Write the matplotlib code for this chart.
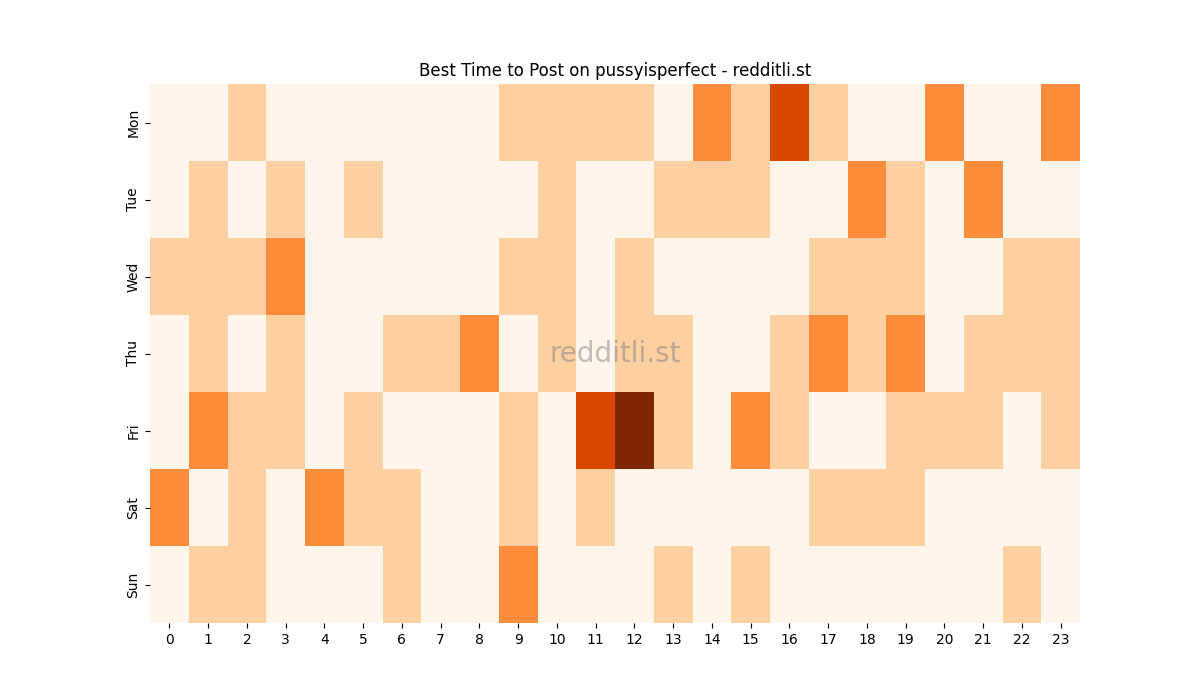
import matplotlib
matplotlib.use("Agg")
import matplotlib.pyplot as plt
import seaborn as sns
import numpy as np

days = ["Mon", "Tue", "Wed", "Thu", "Fri", "Sat", "Sun"]
hours = list(range(24))

mon = [0, 0, 1, 0, 0, 0, 0, 0, 0, 1, 1, 1, 1, 0, 2, 1, 3, 1, 0, 0, 2, 0, 0, 2]
tue = [0, 1, 0, 1, 0, 1, 0, 0, 0, 0, 1, 0, 0, 1, 1, 1, 0, 0, 2, 1, 0, 2, 0, 0]
wed = [1, 1, 1, 2, 0, 0, 0, 0, 0, 1, 1, 0, 1, 0, 0, 0, 0, 1, 1, 1, 0, 0, 1, 1]
thu = [0, 1, 0, 1, 0, 0, 1, 1, 2, 0, 1, 0, 1, 1, 0, 0, 1, 2, 1, 2, 0, 1, 1, 1]
fri = [0, 2, 1, 1, 0, 1, 0, 0, 0, 1, 0, 3, 4, 1, 0, 2, 1, 0, 0, 1, 1, 1, 0, 1]
sat = [2, 0, 1, 0, 2, 1, 1, 0, 0, 1, 0, 1, 0, 0, 0, 0, 0, 1, 1, 1, 0, 0, 0, 0]
sun = [0, 1, 1, 0, 0, 0, 1, 0, 0, 2, 0, 0, 0, 1, 0, 1, 0, 0, 0, 0, 0, 0, 1, 0]

grid = np.array([mon, tue, wed, thu, fri, sat, sun])

fig, ax = plt.subplots(figsize=(12, 7), dpi=100)
sns.heatmap(grid, cmap="Oranges", vmin=0, vmax=4, cbar=False,
            xticklabels=hours, yticklabels=days, ax=ax)
ax.set_title("Best Time to Post on pussyisperfect - redditli.st")
ax.text(0.5, 0.5, "redditli.st", transform=ax.transAxes, fontsize=20,
        color="gray", alpha=0.5, ha="center", va="center")
plt.savefig("out.png")
